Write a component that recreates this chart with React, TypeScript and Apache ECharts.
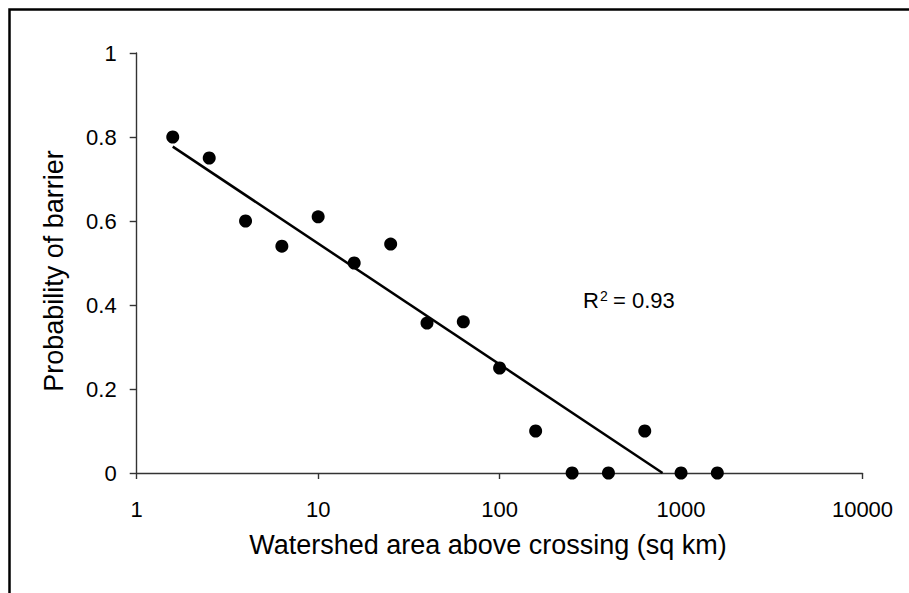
import React, { useEffect, useRef } from "react";
import * as echarts from "echarts";

// Watershed area (sq km) and probability of barrier
const areas = [1.58, 2.51, 3.98, 6.31, 10, 15.8, 25.1, 39.8, 63.1, 100, 158, 251, 398, 631, 1000, 1585];
const probabilities = [0.8, 0.75, 0.6, 0.54, 0.61, 0.5, 0.545, 0.357, 0.36, 0.25, 0.1, 0, 0, 0.1, 0, 0];
// Logarithmic trend line endpoints
const trendAreas = [1.58, 791];
const trendValues = [0.777, 0];
const yTicks = { min: 0, max: 1, interval: 0.2 };
const xRange = { min: 1, max: 10000 };
const xTitle = "Watershed area above crossing (sq km)";
const yTitle = "Probability of barrier";
const rSquared = "0.93";

const FONT = "'Liberation Sans', Arial, sans-serif";

export default function App() {
  const ref = useRef<HTMLDivElement>(null);
  useEffect(() => {
    if (!ref.current) return;
    const chart = echarts.init(ref.current, null, { renderer: "svg" });
    const axisColor = "#333333";
    chart.setOption({
      animation: false,
      backgroundColor: "#ffffff",
      textStyle: { fontFamily: FONT },
      grid: { left: 136.7, right: 46.5, top: 53, bottom: 120, containLabel: false },
      xAxis: {
        type: "log",
        logBase: 10,
        min: xRange.min,
        max: xRange.max,
        axisLine: { show: true, lineStyle: { color: axisColor, width: 1.4 } },
        axisTick: { show: true, inside: false, length: 6, lineStyle: { color: axisColor, width: 1.4 } },
        minorTick: { show: false },
        splitLine: { show: false },
        axisLabel: {
          color: "#000",
          fontSize: 22,
          fontFamily: FONT,
          margin: 25,
          formatter: (v: number) => String(Math.round(v)),
        },
      },
      yAxis: {
        type: "value",
        min: yTicks.min,
        max: yTicks.max,
        interval: yTicks.interval,
        axisLine: { show: true, lineStyle: { color: axisColor, width: 1.4 } },
        axisTick: { show: true, inside: false, length: 7, lineStyle: { color: axisColor, width: 1.4 } },
        splitLine: { show: false },
        axisLabel: {
          color: "#000",
          fontSize: 22,
          fontFamily: FONT,
          margin: 20,
          formatter: (v: number) => String(Math.round(v * 10) / 10),
        },
      },
      graphic: [
        {
          type: "rect",
          shape: { x: 9.5, y: 9.5, width: 1000, height: 1000 },
          style: { fill: "none", stroke: "#000", lineWidth: 2.5 },
          silent: true,
        },
        {
          type: "text",
          x: 488,
          y: 545,
          style: { text: xTitle, fontSize: 27, fontFamily: FONT, fill: "#000", align: "center", verticalAlign: "middle" },
        },
        {
          type: "text",
          x: 54,
          y: 271,
          rotation: Math.PI / 2,
          style: { text: yTitle, fontSize: 27, fontFamily: FONT, fill: "#000", align: "center", verticalAlign: "middle" },
        },
        {
          type: "text",
          x: 583,
          y: 300,
          style: { text: "R", fontSize: 22, fontFamily: FONT, fill: "#000", align: "left", verticalAlign: "middle" },
        },
        {
          type: "text",
          x: 600,
          y: 296,
          style: { text: "2", fontSize: 14, fontFamily: FONT, fill: "#000", align: "left", verticalAlign: "middle" },
        },
        {
          type: "text",
          x: 613,
          y: 300,
          style: { text: "= " + rSquared, fontSize: 22, fontFamily: FONT, fill: "#000", align: "left", verticalAlign: "middle" },
        },
      ],
      series: [
        {
          type: "line",
          data: trendAreas.map((a, i) => [a, trendValues[i]]),
          showSymbol: false,
          symbol: "none",
          lineStyle: { color: "#000", width: 2.5 },
          silent: true,
          z: 2,
        },
        {
          type: "scatter",
          data: areas.map((a, i) => [a, probabilities[i]]),
          symbol: "circle",
          symbolSize: 13,
          itemStyle: { color: "#000", opacity: 1 },
          z: 3,
        },
      ],
    });
    return () => chart.dispose();
  }, []);
  return (
    <div
      ref={ref}
      style={{ position: "absolute", left: 0, top: 0, width: 909, height: 593, background: "#fff" }}
    />
  );
}
